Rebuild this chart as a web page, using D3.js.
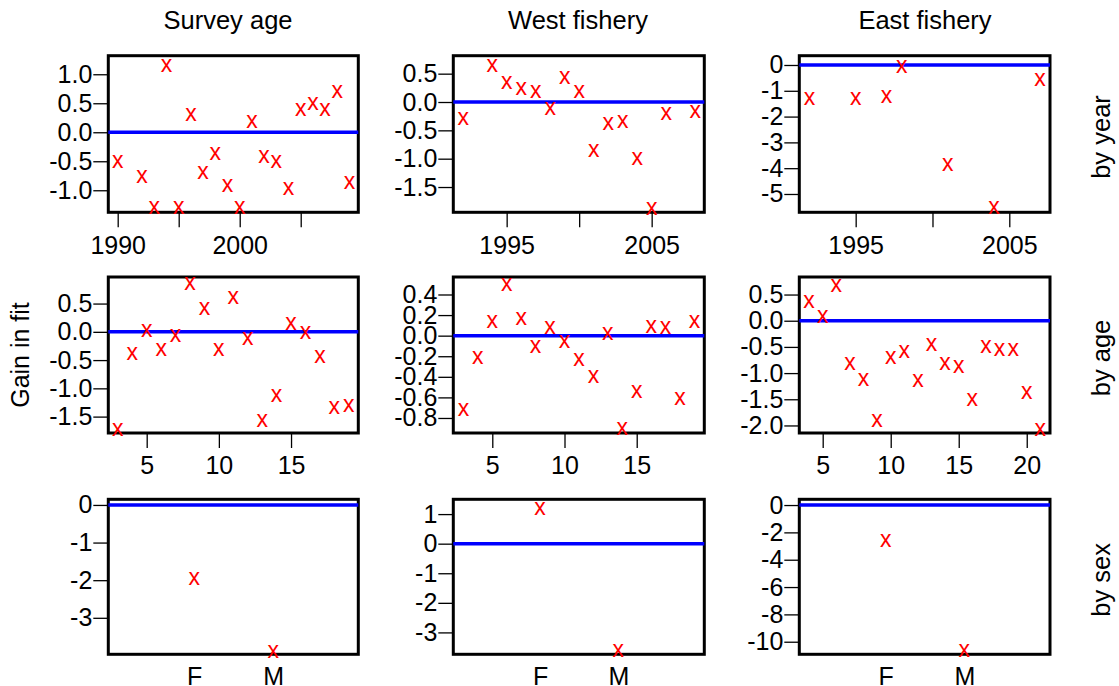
<!DOCTYPE html>
<meta charset="utf-8">
<head>
<title>Gain in fit</title>
<style>
body { margin: 0; background: #fff; }
text { font-family: "Liberation Sans", Arial, Helvetica, sans-serif; fill: #000; }
.box { fill: none; stroke: #000; stroke-width: 3px; }
.zero { stroke: #0000ff; stroke-width: 3.5px; }
.pt { fill: #ff0000; font-size: 23px; text-anchor: middle; }
.axis line { stroke: #000; stroke-width: 1.3px; }
</style>
</head>
<body>
<script src="https://cdn.jsdelivr.net/npm/d3@7"></script>
<div id="chart"></div>
<script>

var width = 1119,
    height = 686;

// row 1: by year
var surveyYears = [1990, 1992, 1993, 1994, 1995, 1996, 1997, 1998, 1999, 2000, 2001, 2002, 2003, 2004, 2005, 2006, 2007, 2008, 2009];
var surveyYearGain = [-0.52, -0.77, -1.31, 1.14, -1.31, 0.30, -0.70, -0.37, -0.92, -1.31, 0.18, -0.43, -0.52, -0.98, 0.38, 0.48, 0.38, 0.70, -0.88];
var westYears = [1992, 1994, 1995, 1996, 1997, 1998, 1999, 2000, 2001, 2002, 2003, 2004, 2005, 2006, 2008];
var westYearGain = [-0.30, 0.64, 0.34, 0.23, 0.17, -0.13, 0.42, 0.18, -0.87, -0.39, -0.35, -1.00, -1.88, -0.21, -0.18];
var eastYears = [1992, 1995, 1997, 1998, 2001, 2004, 2007];
var eastYearGain = [-1.32, -1.32, -1.26, -0.06, -3.88, -5.55, -0.58];

// row 2: by age
var surveyAges = [3, 4, 5, 6, 7, 8, 9, 10, 11, 12, 13, 14, 15, 16, 17, 18, 19];
var surveyAgeGain = [-1.74, -0.40, 0.01, -0.32, -0.07, 0.84, 0.41, -0.32, 0.59, -0.13, -1.58, -1.13, 0.14, -0.02, -0.44, -1.34, -1.32];
var westAges = [3, 4, 5, 6, 7, 8, 9, 10, 11, 12, 13, 14, 15, 16, 17, 18, 19];
var westAgeGain = [-0.72, -0.22, 0.135, 0.49, 0.16, -0.107, 0.077, -0.06, -0.24, -0.40, 0.016, -0.91, -0.55, 0.08, 0.07, -0.62, 0.13];
var eastAges = [4, 5, 6, 7, 8, 9, 10, 11, 12, 13, 14, 15, 16, 17, 18, 19, 20, 21];
var eastAgeGain = [0.35, 0.07, 0.66, -0.83, -1.13, -1.92, -0.72, -0.59, -1.16, -0.46, -0.83, -0.89, -1.52, -0.50, -0.56, -0.56, -1.38, -2.08];

// row 3: by sex
var sexes = ["F", "M"];
var surveySexGain = [-1.98, -3.90];
var westSexGain = [1.16, -3.63];
var eastSexGain = [-2.61, -10.68];

var colTitles = ["Survey age", "West fishery", "East fishery"];
var rowTitles = ["by year", "by age", "by sex"];

// axis ranges and ticks
var xDomains = [
  [1989.23, 2009.72], [1991.32, 2008.63], [1991.33, 2007.65],
  [2.34, 19.66], [2.30, 19.68], [3.28, 21.71],
  [-0.09, 3.08], [-0.11, 3.10], [-0.10, 3.09]
];
var yDomains = [
  [-1.38, 1.32], [-1.946, 0.817], [-5.71, 0.36],
  [-1.79, 0.97], [-0.946, 0.57], [-2.144, 0.835],
  [-3.97, 0.15], [-3.74, 1.50], [-10.92, 0.42]
];
var xTicks = [
  [1990, 1995, 2000, 2005], [1995, 2000, 2005], [1995, 2000, 2005],
  [5, 10, 15], [5, 10, 15], [5, 10, 15, 20],
  [1, 2], [1, 2], [1, 2]
];
var xTickLabels = [
  ["1990", "", "2000", ""], ["1995", "", "2005"], ["1995", "", "2005"],
  ["5", "10", "15"], ["5", "10", "15"], ["5", "10", "15", "20"],
  sexes, sexes, sexes
];
var yTicks = [
  [-1, -0.5, 0, 0.5, 1], [-1.5, -1, -0.5, 0, 0.5], [-5, -4, -3, -2, -1, 0],
  [-1.5, -1, -0.5, 0, 0.5], [-0.8, -0.6, -0.4, -0.2, 0, 0.2, 0.4], [-2, -1.5, -1, -0.5, 0, 0.5],
  [-3, -2, -1, 0], [-3, -2, -1, 0, 1], [-10, -8, -6, -4, -2, 0]
];
var yTickDecimals = [1, 1, 0, 1, 1, 1, 0, 0, 0];

var xs = [surveyYears, westYears, eastYears, surveyAges, westAges, eastAges, [1, 2], [1, 2], [1, 2]];
var ys = [surveyYearGain, westYearGain, eastYearGain, surveyAgeGain, westAgeGain, eastAgeGain, surveySexGain, westSexGain, eastSexGain];

// layout
var cols = [[108.3, 358.3], [453.3, 704.3], [799.3, 1050]];
var rows = [[55.7, 212.3], [277, 433], [499.3, 654.3]];
var titleX = [228, 578, 925];

var svg = d3.select('#chart')
    .append('svg')
    .attr('width', width)
    .attr('height', height);

colTitles.forEach(function (t, i) {
  svg.append('text')
      .attr('x', titleX[i])
      .attr('y', 28.5)
      .attr('text-anchor', 'middle')
      .style('font-size', '25.5px')
      .text(t);
});

rowTitles.forEach(function (t, i) {
  var cy = (rows[i][0] + rows[i][1]) / 2 + 3;
  svg.append('text')
      .attr('transform', 'translate(1110,' + cy + ') rotate(-90)')
      .attr('text-anchor', 'middle')
      .style('font-size', '25.5px')
      .text(t);
});

svg.append('text')
    .attr('transform', 'translate(29,' + ((rows[1][0] + rows[1][1]) / 2) + ') rotate(-90)')
    .attr('text-anchor', 'middle')
    .style('font-size', '25px')
    .text('Gain in fit');

function fmt(d, dec) {
  return d3.format('.' + dec + 'f')(d).replace('\u2212', '-');
}

for (var k = 0; k < 9; k++) {
  var r = Math.floor(k / 3), c = k % 3;
  var x = d3.scaleLinear().domain(xDomains[k]).range(cols[c]);
  var y = d3.scaleLinear().domain(yDomains[k]).range([rows[r][1], rows[r][0]]);
  var g = svg.append('g');

  var yAxis = d3.axisLeft(y)
      .tickValues(yTicks[k])
      .tickSize(15)
      .tickPadding(1)
      .tickFormat((function (dec) { return function (d) { return fmt(d, dec); }; })(yTickDecimals[k]));
  var ya = g.append('g')
      .attr('class', 'axis')
      .attr('transform', 'translate(' + cols[c][0] + ',0)')
      .call(yAxis);

  var labels = xTickLabels[k], ticks = xTicks[k];
  var xAxis = d3.axisBottom(x)
      .tickValues(ticks)
      .tickSize(r === 2 ? 0 : 15)
      .tickPadding(r === 2 ? 12.5 : 8.5)
      .tickFormat((function (tk, lb) { return function (d) { return lb[tk.indexOf(d)]; }; })(ticks, labels));
  var xa = g.append('g')
      .attr('class', 'axis')
      .attr('transform', 'translate(0,' + rows[r][1] + ')')
      .call(xAxis);

  [ya, xa].forEach(function (a) {
    a.attr('font-family', null).attr('font-size', null);
    a.select('.domain').remove();
    a.selectAll('text').style('font-size', '25px');
  });
  if (r === 2) xa.selectAll('line').remove();

  g.append('rect')
      .attr('class', 'box')
      .attr('x', cols[c][0])
      .attr('y', rows[r][0])
      .attr('width', cols[c][1] - cols[c][0])
      .attr('height', rows[r][1] - rows[r][0]);

  g.append('line')
      .attr('class', 'zero')
      .attr('x1', cols[c][0])
      .attr('x2', cols[c][1])
      .attr('y1', y(0))
      .attr('y2', y(0));

  g.selectAll('.pt')
      .data(d3.zip(xs[k], ys[k]))
      .enter()
      .append('text')
      .attr('class', 'pt')
      .attr('x', function (d) { return x(d[0]); })
      .attr('y', function (d) { return y(d[1]); })
      .attr('dy', '0.26em')
      .text('x');
}
</script>
</body>
